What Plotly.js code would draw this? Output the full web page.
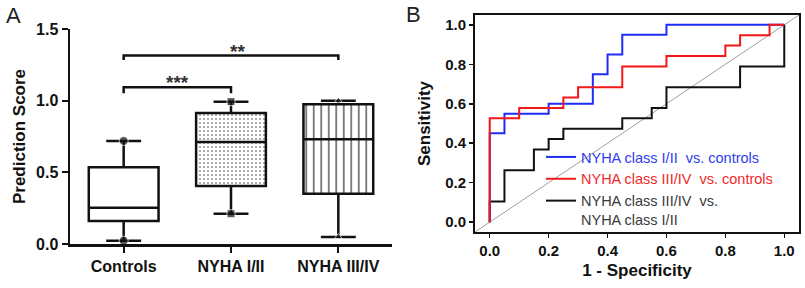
<!DOCTYPE html>
<html>
<head>
<meta charset="utf-8">
<script src="https://cdn.plot.ly/plotly-3.0.1.min.js"></script>
<style>html,body{margin:0;padding:0;background:#fff;}#chart{width:805px;height:288px;}</style>
</head>
<body>
<div id="chart"></div>
<script>
// ---------- Panel A: box plot data ----------
const categories = ['Controls', 'NYHA I/II', 'NYHA III/IV'];
const q1Values = [0.16, 0.405, 0.35];
const medianValues = [0.253, 0.712, 0.731];
const q3Values = [0.535, 0.914, 0.975];
const minValues = [0.023, 0.211, 0.049];
const maxValues = [0.719, 0.993, 1.0];
const yTicksA = [0, 0.5, 1.0, 1.5];

// significance brackets
const sigFrom = ['Controls', 'Controls'];
const sigTo = ['NYHA III/IV', 'NYHA I/II'];
const sigTop = [1.315, 1.093];
const sigBottom = [1.284, 1.052];
const sigLabels = ['**', '***'];

// ---------- Panel B: ROC curves (corner points, vertical-then-horizontal steps) ----------
const blueFPR = [0, 0.05, 0.2, 0.35, 0.4, 0.45, 0.6, 1.0];
const blueTPR = [0, 0.45, 0.55, 0.6, 0.75, 0.85, 0.95, 1.0];
const redFPR = [0, 0.1, 0.25, 0.3, 0.45, 0.6, 0.8, 0.85, 0.95, 1.0];
const redTPR = [0, 0.526, 0.579, 0.632, 0.684, 0.789, 0.842, 0.895, 0.947, 1.0];
const blackFPR = [0, 0.05, 0.15, 0.2, 0.25, 0.45, 0.55, 0.6, 0.85, 1.0, 1.0];
const blackTPR = [0, 0.105, 0.263, 0.368, 0.421, 0.474, 0.526, 0.579, 0.684, 0.789, 1.0];
const diagonal = [-0.05, 1.05];
const ticksB = [0, 0.2, 0.4, 0.6, 0.8, 1.0];
const rocNames = [
  '<span style="color:#2f3cf0">NYHA class I/II  vs. controls</span>',
  '<span style="color:#ee2a2a">NYHA class III/IV  vs. controls</span>',
  '<span style="color:#3a3a3a">NYHA class III/IV  vs.<br>NYHA class I/II</span>'
];

const FONT = 'Liberation Sans, Arial, Helvetica, sans-serif';
const traces = [];

// pattern fills behind boxes
traces.push({
  type: 'bar', x: categories, base: q1Values,
  y: q3Values.map((v, i) => v - q1Values[i]),
  width: 0.65, xaxis: 'x', yaxis: 'y', showlegend: false, hoverinfo: 'skip',
  marker: {
    color: '#ffffff', line: {width: 0},
    pattern: {shape: ['', '.', '|'], fgcolor: ['#888', '#8a8a8a', '#5a5a5a'],
              bgcolor: '#ffffff', size: [8, 4, 7.5], solidity: [0.2, 0.18, 0.2], fillmode: 'replace'}
  }
});

traces.push({
  type: 'box', x: categories, q1: q1Values, median: medianValues, q3: q3Values,
  lowerfence: minValues, upperfence: maxValues,
  width: 0.65, whiskerwidth: 0.5, boxpoints: false,
  fillcolor: 'rgba(0,0,0,0)', line: {color: '#111', width: 2.5},
  xaxis: 'x', yaxis: 'y', showlegend: false, hoverinfo: 'skip'
});

traces.push({
  type: 'scatter', mode: 'markers',
  x: categories.concat(categories), y: minValues.concat(maxValues),
  marker: {color: '#111', size: [9, 8, 7, 9, 8, 7],
           symbol: ['circle', 'square', 'triangle-up', 'circle', 'square', 'triangle-up']},
  cliponaxis: false, xaxis: 'x', yaxis: 'y', showlegend: false, hoverinfo: 'skip'
});

for (let i = 0; i < sigLabels.length; i++) {
  traces.push({
    type: 'scatter', mode: 'lines',
    x: [sigFrom[i], sigFrom[i], sigTo[i], sigTo[i]],
    y: [sigBottom[i], sigTop[i], sigTop[i], sigBottom[i]],
    line: {color: '#111', width: 2.5}, cliponaxis: false,
    xaxis: 'x', yaxis: 'y', showlegend: false, hoverinfo: 'skip'
  });
}

// Panel B
traces.push({
  type: 'scatter', mode: 'lines', x: diagonal, y: diagonal,
  line: {color: '#a0a0a0', width: 1}, xaxis: 'x2', yaxis: 'y2', showlegend: false, hoverinfo: 'skip'
});
traces.push({
  type: 'scatter', mode: 'lines', x: blackFPR, y: blackTPR, name: rocNames[2], legendrank: 3,
  line: {color: '#111', width: 2, shape: 'vh'}, xaxis: 'x2', yaxis: 'y2'
});
traces.push({
  type: 'scatter', mode: 'lines', x: blueFPR, y: blueTPR, name: rocNames[0], legendrank: 1,
  line: {color: '#1f2cf5', width: 2, shape: 'vh'}, xaxis: 'x2', yaxis: 'y2'
});
traces.push({
  type: 'scatter', mode: 'lines', x: redFPR, y: redTPR, name: rocNames[1], legendrank: 2,
  line: {color: '#f01818', width: 2, shape: 'vh'}, xaxis: 'x2', yaxis: 'y2'
});

const annotations = sigLabels.map((t, i) => ({
  xref: 'x', yref: 'y',
  x: (categories.indexOf(sigFrom[i]) + categories.indexOf(sigTo[i])) / 2 + (i === 0 ? 0.06 : 0),
  y: sigTop[i], yanchor: 'bottom', yshift: -8, showarrow: false, text: t,
  font: {family: FONT, size: 19, color: '#333', weight: 700}
}));
annotations.push({xref: 'paper', yref: 'paper', x: 13 / 805, y: 1 - 15 / 288, text: 'A',
  showarrow: false, xanchor: 'center', yanchor: 'middle', font: {family: FONT, size: 22, color: '#222'}});
annotations.push({xref: 'paper', yref: 'paper', x: 414 / 805, y: 1 - 14 / 288, text: 'B',
  showarrow: false, xanchor: 'center', yanchor: 'middle', font: {family: FONT, size: 22, color: '#222'}});

const tickFontA = {family: FONT, size: 16, color: '#111', weight: 700};
const tickFontB = {family: FONT, size: 15, color: '#111', weight: 700};
const titleFont = {family: FONT, size: 17, color: '#111', weight: 700};

const layout = {
  width: 805, height: 288, margin: {l: 0, r: 0, t: 0, b: 0},
  paper_bgcolor: '#fff', plot_bgcolor: 'rgba(0,0,0,0)',
  barmode: 'overlay', showlegend: true, annotations: annotations,
  xaxis: {
    domain: [70 / 805, 392 / 805], anchor: 'y', type: 'category', range: [-0.5, 2.5],
    showline: true, linecolor: '#111', linewidth: 2.5, ticks: 'outside', ticklen: 6, tickwidth: 2,
    tickcolor: '#111', tickfont: tickFontA, showgrid: false, zeroline: false, fixedrange: true
  },
  yaxis: {
    domain: [1 - 244 / 288, 1 - 29 / 288], anchor: 'x', range: [0, 1.5], tickvals: yTicksA,
    tickformat: '.1f', showline: true, linecolor: '#111', linewidth: 2.5, ticks: 'outside', ticklen: 6,
    tickwidth: 2, tickcolor: '#111', tickfont: tickFontA, showgrid: false, zeroline: false,
    title: {text: 'Prediction Score', font: titleFont, standoff: 6}, fixedrange: true
  },
  xaxis2: {
    domain: [475 / 805, 799 / 805], anchor: 'y2', range: [-0.05, 1.05], tickvals: ticksB, tickformat: '.1f',
    showline: true, mirror: true, linecolor: '#111', linewidth: 2, ticks: 'outside', ticklen: 4,
    tickwidth: 1.5, tickcolor: '#111', tickfont: tickFontB, showgrid: false, zeroline: false,
    title: {text: '1 - Specificity', font: titleFont, standoff: 6}, fixedrange: true
  },
  yaxis2: {
    domain: [1 - 232 / 288, 1 - 15 / 288], anchor: 'x2', range: [-0.05, 1.05], tickvals: ticksB, tickformat: '.1f',
    showline: true, mirror: true, linecolor: '#111', linewidth: 2, ticks: 'outside', ticklen: 4,
    tickwidth: 1.5, tickcolor: '#111', tickfont: tickFontB, showgrid: false, zeroline: false,
    title: {text: 'Sensitivity', font: titleFont, standoff: 10}, fixedrange: true
  },
  legend: {
    x: 541 / 805, y: 1 - 141 / 288, xanchor: 'left', yanchor: 'top', bgcolor: 'rgba(0,0,0,0)',
    font: {family: FONT, size: 14.5, color: '#333'}, itemwidth: 30, tracegroupgap: 0, valign: 'top',
    traceorder: 'normal'
  }
};

Plotly.newPlot('chart', traces, layout, {displayModeBar: false, staticPlot: true});
</script>
</body>
</html>
